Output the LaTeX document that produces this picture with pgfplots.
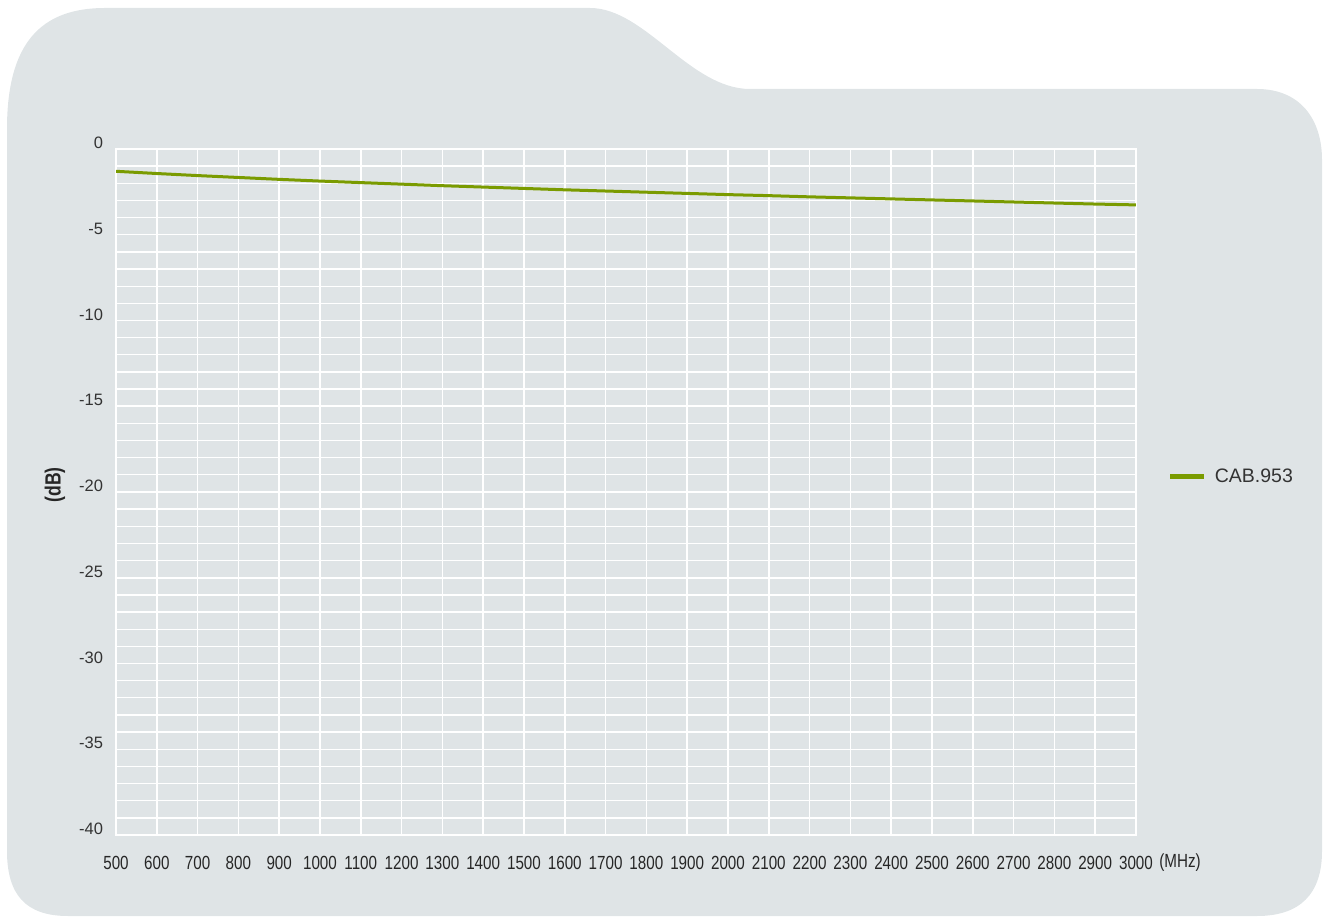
\documentclass[border=0pt]{standalone}
\usepackage{fontspec}
\usepackage{pgfplots}
\pgfplotsset{compat=1.18}
\setmainfont{Liberation Sans}
\newfontfamily\dinfont[FakeStretch=0.8]{Liberation Sans}
\definecolor{bgc}{RGB}{223,228,230}
\definecolor{cab}{RGB}{122,155,0}
\begin{document}
\begin{tikzpicture}
\useasboundingbox (0pt,0pt) rectangle (1327pt,919pt);
\fill[bgc] (7pt,790pt) .. controls (7pt,875pt) and (40pt,911pt) .. (105pt,911pt)
  -- (590pt,911pt) .. controls (645pt,911pt) and (690pt,830pt) .. (750pt,830pt)
  -- (1257pt,830pt) .. controls (1300pt,830pt) and (1322pt,800pt) .. (1322pt,759pt)
  -- (1322pt,68pt) .. controls (1322pt,25pt) and (1300pt,3pt) .. (1257pt,3pt)
  -- (68pt,3pt) .. controls (25pt,3pt) and (7pt,25pt) .. (7pt,68pt) -- cycle;
\begin{axis}[
  at={(116pt,84pt)}, anchor=south west,
  width=1020pt, height=686pt, scale only axis,
  xmin=500, xmax=3000, ymin=-40, ymax=0,
  xtick={500,600,700,800,900,1000,1100,1200,1300,1400,1500,1600,1700,1800,1900,2000,2100,2200,2300,2400,2500,2600,2700,2800,2900,3000},
  xticklabels={500,600,700,800,900,1000,1100,1200,1300,1400,1500,1600,1700,1800,1900,2000,2100,2200,2300,2400,2500,2600,2700,2800,2900,3000},
  ytick={0,-5,-10,-15,-20,-25,-30,-35,-40},
  yticklabels={0,-5,-10,-15,-20,-25,-30,-35,-40},
  minor y tick num=4,
  grid=both,
  major grid style={white, line width=1.5pt},
  minor grid style={white, line width=1.3pt},
  axis line style={white, line width=1.5pt},
  tick style={draw=none},
  major tick length=0pt, minor tick length=0pt,
  xticklabel style={font=\dinfont\fontsize{19pt}{22pt}\selectfont, color=black!85, anchor=north, yshift=-18pt},
  yticklabel style={font=\fontsize{16.5pt}{19pt}\selectfont, color=black!80, anchor=east, xshift=-9.5pt, yshift=6pt},
  legend style={at={(1.031,0.522)}, anchor=west, draw=none, fill=none, inner sep=0pt,
    font=\fontsize{19.5pt}{24pt}\selectfont, text=black!80, legend cell align=left,
    nodes={inner xsep=8pt}},
  legend image code/.code={\draw[#1, line width=5pt] (0pt,0pt) -- (34pt,0pt);},
]
\addplot[cab, line width=3pt] coordinates {
(500,-1.30) (600,-1.43) (700,-1.55) (800,-1.66) (900,-1.77) (1000,-1.87)
(1100,-1.96) (1200,-2.05) (1300,-2.14) (1400,-2.22) (1500,-2.30) (1600,-2.38)
(1700,-2.45) (1800,-2.52) (1900,-2.59) (2000,-2.66) (2100,-2.72) (2200,-2.79)
(2300,-2.85) (2400,-2.91) (2500,-2.97) (2600,-3.03) (2700,-3.09) (2800,-3.15)
(2900,-3.21) (3000,-3.26)};
\addlegendentry{CAB.953}
\end{axis}
\node[rotate=90, font=\dinfont\bfseries\fontsize{22pt}{24pt}\selectfont, text=black!85] at (55pt,434pt) {(dB)};
\node[font=\dinfont\fontsize{19pt}{22pt}\selectfont, text=black!85] at (1180pt,56pt) {(MHz)};
\end{tikzpicture}
\end{document}
